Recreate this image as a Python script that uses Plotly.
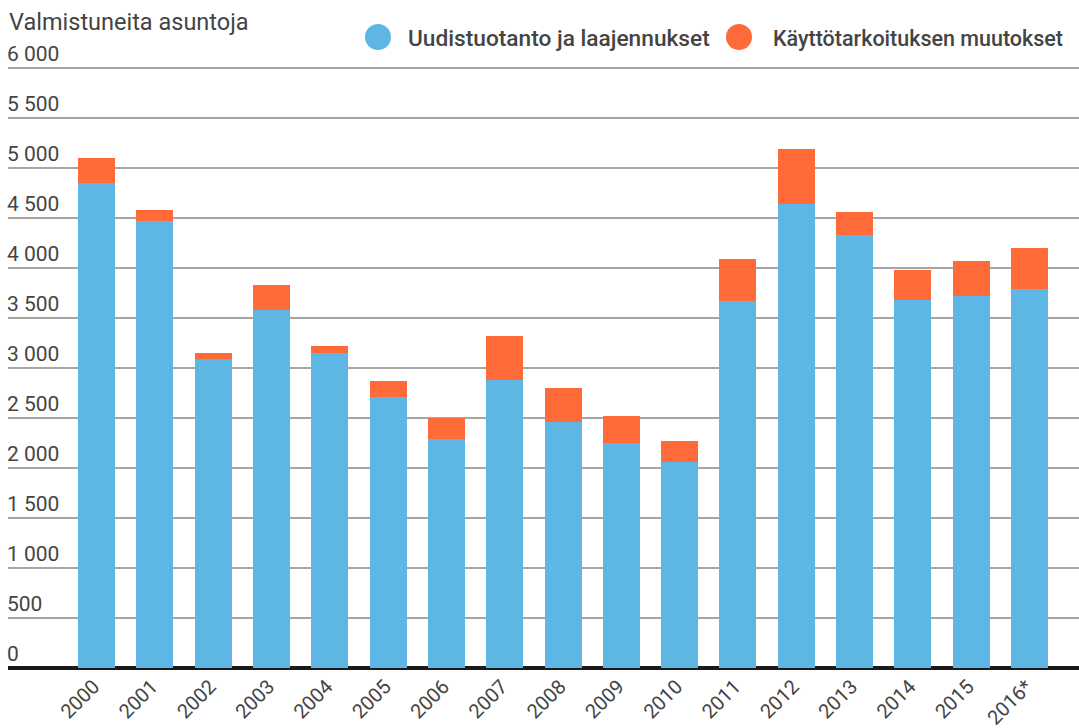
import plotly.graph_objects as go

years = ["2000", "2001", "2002", "2003", "2004", "2005", "2006", "2007", "2008",
         "2009", "2010", "2011", "2012", "2013", "2014", "2015", "2016*"]
uudis = [4850, 4470, 3090, 3585, 3150, 2710, 2290, 2885, 2465,
         2250, 2060, 3670, 4645, 4330, 3685, 3725, 3790]
kaytto = [250, 110, 60, 245, 70, 160, 215, 435, 335,
          270, 210, 420, 545, 230, 300, 345, 410]
tickvals = [0, 500, 1000, 1500, 2000, 2500, 3000, 3500, 4000, 4500, 5000, 5500, 6000]
ticktext = ["0", "500", "1 000", "1 500", "2 000", "2 500", "3 000", "3 500",
            "4 000", "4 500", "5 000", "5 500", "6 000"]
series_names = ["Uudistuotanto ja laajennukset", "Käyttötarkoituksen muutokset"]
colors = ["#5DB6E4", "#FF6A39"]

fig = go.Figure()
fig.add_trace(go.Bar(x=years, y=uudis, name=series_names[0], marker_color=colors[0],
                     marker_line_width=0, showlegend=False))
fig.add_trace(go.Bar(x=years, y=kaytto, name=series_names[1], marker_color=colors[1],
                     marker_line_width=0, showlegend=False))

font_color = "#444444"
TOP, BOT, LEFT = 38, 60, 8
PH = 728 - TOP - BOT
PW = 1079 - LEFT


def py(p):
    return (728 - BOT - p) / PH


def px(p):
    return (p - LEFT) / PW


fig.update_layout(
    width=1079, height=728,
    barmode="stack", bargap=0.365,
    plot_bgcolor="white", paper_bgcolor="white",
    margin=dict(l=LEFT, r=0, t=TOP, b=BOT, autoexpand=False),
    font=dict(family="Roboto", size=20, color=font_color),
    xaxis=dict(type="category", range=[-1.52, 16.85], tickangle=-45,
               ticklabelstandoff=2, ticklabelshift=-3, automargin=False,
               showgrid=False, ticks="", tickfont=dict(size=20, color=font_color)),
    yaxis=dict(range=[0, 6300], tickvals=tickvals, ticktext=ticktext,
               ticklabelposition="inside top", ticklabelstandoff=-4,
               showgrid=True, gridcolor="#A6A6A6", automargin=False,
               gridwidth=2, zeroline=True, zerolinecolor="#1a1a1a", zerolinewidth=4,
               tickfont=dict(size=21, color=font_color), ticks=""),
)

# Title annotation
fig.add_annotation(text="Valmistuneita asuntoja", xref="paper", yref="paper",
                   x=px(7), y=py(22), xanchor="left", yanchor="middle",
                   showarrow=False, font=dict(size=23.5, color=font_color))

# Custom legend with circular markers
legend_items = [(378, 406, series_names[0], 22.7), (739, 771, series_names[1], 21.5)]
for (cx, tx, name, fs), col in zip(legend_items, colors):
    fig.add_shape(type="circle", xref="paper", yref="paper",
                  x0=px(cx - 13), x1=px(cx + 13),
                  y0=py(37 + 13), y1=py(37 - 13),
                  fillcolor=col, line_width=0)
    fig.add_annotation(text=name, xref="paper", yref="paper",
                       x=px(tx), y=py(38),
                       xanchor="left", yanchor="middle", showarrow=False,
                       font=dict(size=fs, color=font_color, weight=500))

fig.write_html("out.html", config={"displayModeBar": False},
               post_script="document.body.style.margin='0';")
